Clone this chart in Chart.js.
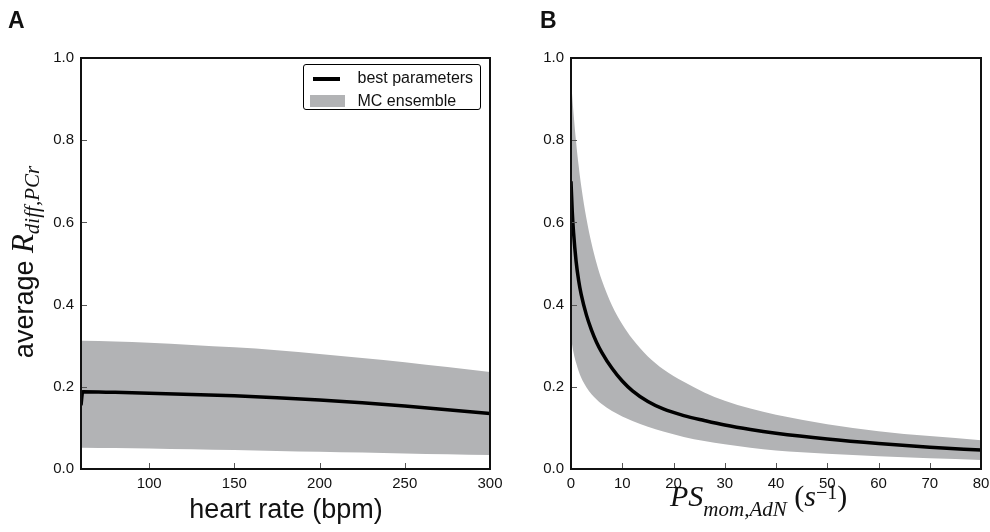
<!DOCTYPE html>
<html lang="en">
<head>
<meta charset="UTF-8">
<title>average Rdiff,PCr</title>
<script src="https://cdn.jsdelivr.net/npm/chart.js"></script>
<style>
    html, body { margin: 0; padding: 0; background: #fff; }
    #wrap {
        position: relative;
        width: 990px;
        height: 532px;
        overflow: hidden;
        font-family: "Liberation Sans", Arial, sans-serif;
        color: #111;
    }
    canvas { position: absolute; top: 0; }
    .letter { position: absolute; font-weight: bold; font-size: 23px; line-height: 23px; }
    .math { font-family: "Liberation Serif", "Times New Roman", serif; font-style: italic; }
    .up { font-family: "Liberation Serif", "Times New Roman", serif; font-style: normal; }
    .title { position: absolute; white-space: nowrap; line-height: 1; }
    .title sub, .title sup { line-height: 0; }
    #legend {
        position: absolute;
        left: 303px; top: 64px;
        width: 176px; height: 44px;
        border: 1.5px solid #000;
        border-radius: 3px;
        background: #fff;
        font-size: 16px;
    }
    #legend span { position: absolute; line-height: 16px; white-space: nowrap; }
</style>
</head>
<body>
<div id="wrap">
    <canvas id="chartA" width="510" height="532" style="left:0"></canvas>
    <canvas id="chartB" width="510" height="532" style="left:490px"></canvas>

    <div class="letter" style="left:8px; top:9px">A</div>
    <div class="letter" style="left:540px; top:9px">B</div>

    <!-- y label -->
    <div class="title" style="left:22px; top:262px; font-size:27px; transform: translate(-50%,-50%) rotate(-90deg)">
        average <span class="math" style="font-size:31px">R<sub style="font-size:21px; vertical-align:-6px">diff,PCr</sub></span>
    </div>

    <div class="title" style="left:286px; top:496px; font-size:27px; transform: translateX(-50%)">heart rate (bpm)</div>

    <div class="title" style="left:670px; top:481px; font-size:30px">
        <span class="math">PS<sub style="font-size:21px; vertical-align:-10px">mom,AdN</sub></span><span class="up"> (</span><span class="math">s</span><sup class="up" style="font-size:20px; vertical-align:7px">&minus;1</sup><span class="up">)</span>
    </div>

    <div id="legend">
        <div style="position:absolute; left:8.5px; top:11.5px; width:27px; height:4px; background:#000"></div>
        <span style="left:53.5px; top:4.5px">best parameters</span>
        <div style="position:absolute; left:5.5px; top:29.5px; width:35px; height:12px; background:rgb(178,179,181)"></div>
        <span style="left:53.5px; top:27.5px">MC ensemble</span>
    </div>
</div>

<script>
// панель A: частота сердечных сокращений
const hrX     = [60, 61, 80, 100, 125, 150, 175, 200, 225, 250, 275, 300];
const hrBest  = [0.155, 0.188, 0.1865, 0.1845, 0.1815, 0.178, 0.1735, 0.168, 0.161, 0.153, 0.144, 0.135];
const hrUpper = [0.312, 0.312, 0.310, 0.307, 0.302, 0.296, 0.289, 0.280, 0.270, 0.260, 0.248, 0.236];
const hrLower = [0.052, 0.052, 0.051, 0.050, 0.048, 0.046, 0.044, 0.042, 0.040, 0.038, 0.036, 0.034];
const hrTicks = [100, 150, 200, 250, 300];

// панель B: PS mom,AdN
const psX     = [0, 0.25, 0.5, 1, 1.5, 2, 3, 4, 5, 6, 8, 10, 12, 15, 18, 22, 26, 30, 35, 40, 50, 60, 70, 80];
const psBest  = [0.700, 0.625, 0.575, 0.505, 0.458, 0.424, 0.375, 0.338, 0.308, 0.284, 0.245, 0.214,
                 0.190, 0.164, 0.146, 0.130, 0.118, 0.107, 0.096, 0.087, 0.073, 0.062, 0.053, 0.046];
const psUpper = [0.950, 0.905, 0.865, 0.795, 0.737, 0.688, 0.610, 0.549, 0.500, 0.460, 0.398, 0.352,
                 0.316, 0.274, 0.243, 0.212, 0.186, 0.166, 0.147, 0.132, 0.109, 0.092, 0.080, 0.070];
const psLower = [0.320, 0.300, 0.283, 0.258, 0.238, 0.222, 0.199, 0.182, 0.169, 0.158, 0.141, 0.128,
                 0.117, 0.103, 0.091, 0.078, 0.068, 0.060, 0.052, 0.045, 0.037, 0.031, 0.026, 0.022];
const psTicks = [0, 10, 20, 30, 40, 50, 60, 70, 80];

const yTicks = [0, 0.2, 0.4, 0.6, 0.8, 1.0];

const bandColor = 'rgb(178,179,181)';
const tickFont = { family: '"Liberation Sans", Arial, sans-serif', size: 15 };

function pts(xs, ys) {
    return xs.map((x, i) => ({ x: x, y: ys[i] }));
}

// рамка и внутренние засечки
const frame = {
    id: 'frame',
    afterDraw(chart) {
        const { ctx, chartArea: a, scales } = chart;
        ctx.save();
        ctx.strokeStyle = '#555';
        ctx.lineWidth = 1;
        ctx.beginPath();
        scales.x.ticks.forEach(t => {
            const px = Math.round(scales.x.getPixelForValue(t.value)) + 0.5;
            ctx.moveTo(px, a.bottom);
            ctx.lineTo(px, a.bottom - 6);
        });
        scales.y.ticks.forEach(t => {
            const py = Math.round(scales.y.getPixelForValue(t.value)) + 0.5;
            ctx.moveTo(a.left, py);
            ctx.lineTo(a.left + 6, py);
        });
        ctx.stroke();
        ctx.strokeStyle = '#111';
        ctx.lineWidth = 2;
        ctx.strokeRect(a.left, a.top, a.right - a.left, a.bottom - a.top);
        ctx.restore();
    }
};

function makeChart(id, xs, best, upper, lower, xmin, xmax, xticks, padRight) {
    return new Chart(document.getElementById(id), {
        type: 'line',
        data: {
            datasets: [
                { label: 'best parameters', data: pts(xs, best), borderColor: '#000', borderWidth: 3.5,
                  pointRadius: 0, fill: false, cubicInterpolationMode: 'monotone' },
                { label: 'MC ensemble', data: pts(xs, upper), borderWidth: 0, borderColor: 'rgba(0,0,0,0)',
                  backgroundColor: bandColor, pointRadius: 0, fill: '+1', cubicInterpolationMode: 'monotone' },
                { label: 'lower', data: pts(xs, lower), borderWidth: 0, borderColor: 'rgba(0,0,0,0)',
                  pointRadius: 0, fill: false, cubicInterpolationMode: 'monotone' }
            ]
        },
        options: {
            responsive: false,
            animation: false,
            events: [],
            layout: { padding: { top: 58, right: padRight, left: 0, bottom: 0 } },
            plugins: { legend: { display: false }, tooltip: { enabled: false } },
            scales: {
                x: {
                    type: 'linear', min: xmin, max: xmax,
                    afterFit: s => { s.height = 63; },
                    afterBuildTicks: s => { s.ticks = xticks.map(v => ({ value: v })); },
                    grid: { display: false, drawTicks: false },
                    border: { display: false },
                    ticks: { padding: 6, color: '#111', font: tickFont, maxRotation: 0, callback: v => String(v) }
                },
                y: {
                    type: 'linear', min: 0, max: 1,
                    afterFit: s => { s.width = 81; },
                    afterBuildTicks: s => { s.ticks = yTicks.map(v => ({ value: v })); },
                    grid: { display: false, drawTicks: false },
                    border: { display: false },
                    ticks: { padding: 7, color: '#111', font: tickFont, callback: v => Number(v).toFixed(1) }
                }
            }
        },
        plugins: [frame]
    });
}

makeChart('chartA', hrX, hrBest, hrUpper, hrLower, 60, 300, hrTicks, 20);
makeChart('chartB', psX, psBest, psUpper, psLower, 0, 80, psTicks, 19);
</script>
</body>
</html>
